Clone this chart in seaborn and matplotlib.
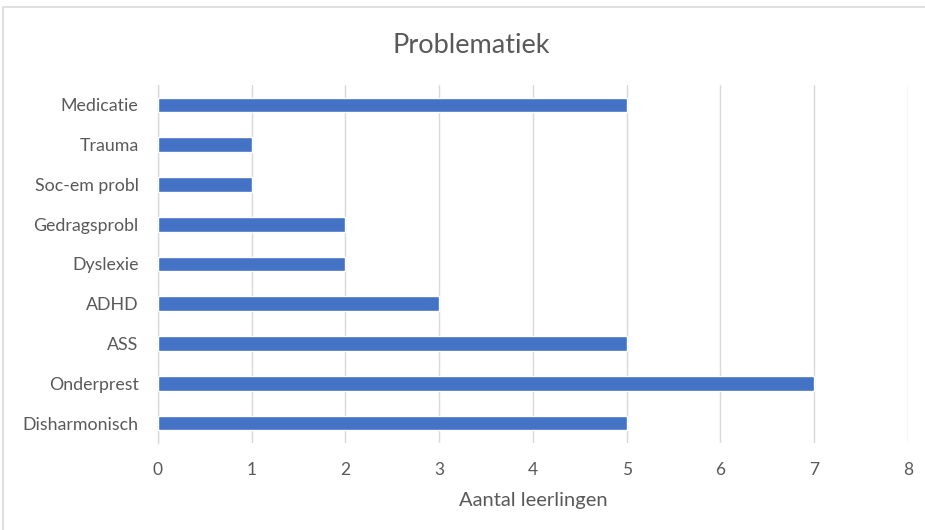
import matplotlib
matplotlib.use("Agg")
import matplotlib.pyplot as plt
import seaborn as sns
import pandas as pd
from matplotlib.patches import Rectangle

# data
categories = ["Medicatie", "Trauma", "Soc-em probl", "Gedragsprobl", "Dyslexie",
              "ADHD", "ASS", "Onderprest", "Disharmonisch"]
counts = [5, 1, 1, 2, 2, 3, 5, 7, 5]
x_ticks = [0, 1, 2, 3, 4, 5, 6, 7, 8]

df = pd.DataFrame({"probleem": categories, "aantal": counts})

sns.set_theme(style="white")
plt.rcParams["font.family"] = ["Lato", "DejaVu Sans"]

text_col = "#595959"
bar_col = "#4472C4"
grid_col = "#D9D9D9"

fig = plt.figure(figsize=(9.25, 5.3), dpi=100)
ax = fig.add_axes([0.1708, 0.1642, 0.8108, 0.6754])

sns.barplot(data=df, y="probleem", x="aantal", color=bar_col, width=0.37,
            saturation=1, ax=ax, zorder=3)

ax.set_xlim(0, 8)
ax.set_xticks(x_ticks)
ax.xaxis.grid(True, color=grid_col, linewidth=1, zorder=0)
ax.set_ylabel("")
ax.set_xlabel("Aantal leerlingen", fontsize=14.5, color=text_col, labelpad=10)
ax.tick_params(axis="x", colors=text_col, labelsize=12.5, length=0, pad=14)
ax.tick_params(axis="y", colors=text_col, labelsize=12.8, length=0, pad=14)
for side in ["top", "right", "bottom"]:
    ax.spines[side].set_visible(False)
ax.spines["left"].set_color(grid_col)
ax.spines["left"].set_linewidth(1)

fig.text(0.509, 0.915, "Problematiek", ha="center", va="center",
         fontsize=19.5, color=text_col)

# light frame of the chart area
fig.patches.append(Rectangle((3 / 925, -0.01), 925, 1 - 7 / 530 + 0.01,
                             transform=fig.transFigure, fill=False,
                             edgecolor=grid_col, linewidth=1.2))

fig.savefig("out.png", dpi=100)
